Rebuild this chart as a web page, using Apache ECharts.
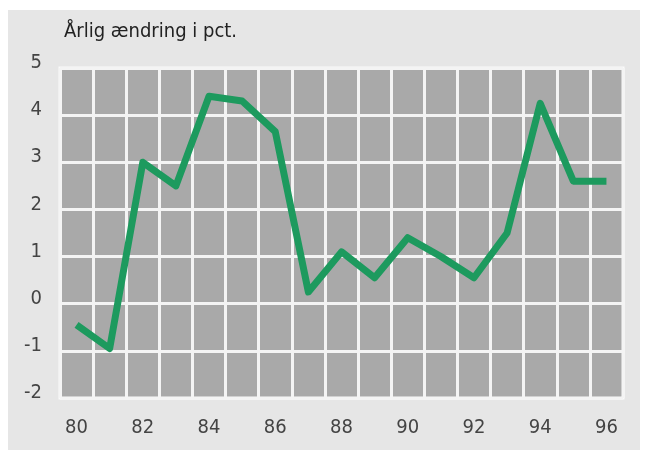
<!DOCTYPE html>
<html><head><meta charset="utf-8">
<script src="https://cdn.jsdelivr.net/npm/echarts@6/dist/echarts.min.js"></script>
<style>html,body{margin:0;padding:0;background:#fff}#c{width:645px;height:457px}</style>
</head><body><div id="c"></div>
<script>
const years = ['80','81','82','83','84','85','86','87','88','89','90','91','92','93','94','95','96'];
const change = [-0.45,-0.95,3.0,2.5,4.4,4.3,3.65,0.25,1.1,0.55,1.4,1.0,0.55,1.5,4.25,2.6,2.6];
const title = 'Årlig ændring i pct.';
const font = '"DejaVu Sans Condensed","Liberation Sans",sans-serif';
const chart = echarts.init(document.getElementById('c'));
chart.setOption({
  backgroundColor:'#ffffff',
  animation:false,
  graphic:[
    {type:'rect',z:-10,shape:{x:8,y:10,width:632,height:440},style:{fill:'#e6e6e6'}},
    {type:'text',left:64,top:22,style:{text:title,font:'20px '+font,fill:'#222'}}
  ],
  grid:{left:60,right:22,top:68,bottom:59,show:true,backgroundColor:'#a9a9a9',borderColor:'#fafafa',borderWidth:3},
  xAxis:{type:'category',data:years,boundaryGap:true,
    axisLine:{show:false},axisTick:{show:false},
    axisLabel:{interval:1,color:'#444',fontSize:20,fontFamily:font,margin:20},
    splitLine:{show:true,interval:0,lineStyle:{color:'#f4f4f4',width:3}}},
  yAxis:{type:'value',min:-2,max:5,interval:1,
    axisLine:{show:false},axisTick:{show:false},
    axisLabel:{color:'#444',fontSize:20,fontFamily:font,margin:18,
      formatter:'{a|{value}}',rich:{a:{color:'#444',fontSize:20,fontFamily:font,padding:[0,0,10,0]}}},
    splitLine:{show:true,lineStyle:{color:'#f4f4f4',width:3}}},
  series:[{type:'line',data:change,symbol:'none',
    lineStyle:{color:'#1d9a5e',width:7,join:'round',cap:'butt'}}]
});
</script></body></html>
